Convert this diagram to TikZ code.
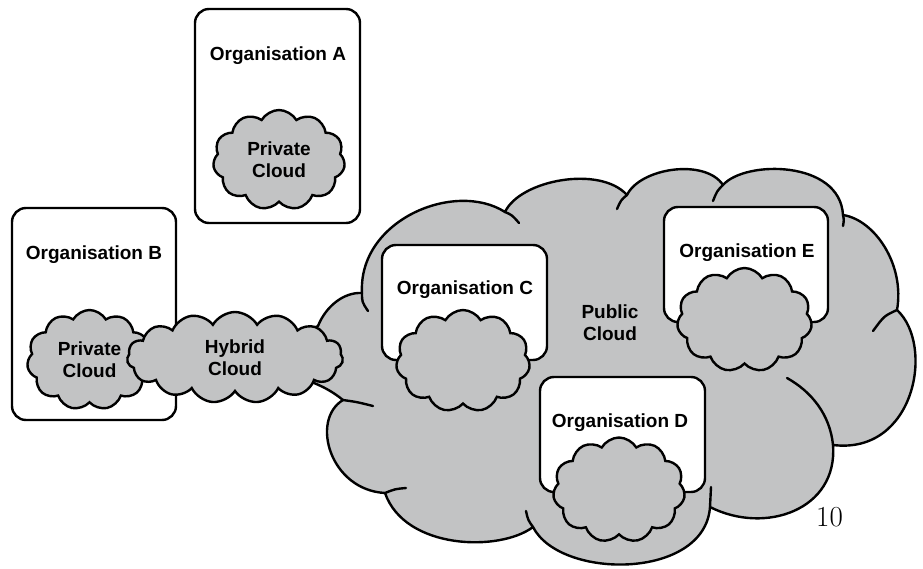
\documentclass[tikz,border=0pt]{standalone}
\usepackage{fontspec}
\newfontfamily\labelfont{Liberation Sans}
\usetikzlibrary{shapes.symbols}
\definecolor{cloudgray}{RGB}{194,195,196}
\tikzset{
  orgbox/.style={draw, fill=white, line width=2.4pt, rounded corners=14pt, inner sep=0pt},
  orglabel/.style={font=\labelfont\bfseries\fontsize{19}{22}\selectfont, inner sep=0pt, align=center},
  puff/.style={cloud, draw, fill=cloudgray, line width=2.4pt, cloud puffs=11, cloud puff arc=120,
    cloud ignores aspect, inner sep=0pt, align=center, font=\labelfont\bfseries\fontsize{19}{22}\selectfont},
  pubcloud/.style={draw, fill=cloudgray, line width=2.4pt, line join=round},
  seam/.style={line width=2.4pt, line cap=round}
}
\begin{document}
\begin{tikzpicture}[x=1pt, y=-1pt]
        \useasboundingbox (0,0) rectangle (923,569);
        % public cloud
        \draw[pubcloud] (318,326)
          .. controls (326,306) and (344,292) .. (362,293)
          .. controls (358,220) and (455,180) .. (505,212)
          .. controls (520,180) and (600,165) .. (627,195)
          .. controls (640,168) and (705,158) .. (723,185)
          .. controls (745,160) and (840,160) .. (843,215)
          .. controls (875,220) and (905,265) .. (897,310)
          .. controls (935,345) and (915,455) .. (833,445)
          .. controls (838,510) and (765,535) .. (710,507)
          .. controls (705,580) and (560,580) .. (533,527)
          .. controls (500,552) and (405,550) .. (385,493)
          .. controls (330,490) and (310,420) .. (343,400)
          .. controls (333,392) and (322,385) .. (300,378)
          -- (300,335) -- cycle;
        \draw[seam] (362,293) .. controls (362,302) .. (368,311);
        \draw[seam] (505,212) .. controls (512,215) .. (519,223);
        \draw[seam] (627,195) .. controls (621,200) .. (617,209);
        \draw[seam] (723,185) .. controls (717,191) .. (713,201);
        \draw[seam] (843,215) .. controls (844,220) .. (843,226);
        \draw[seam] (897,310) .. controls (884,316) .. (873,331);
        \draw[seam] (833,445) .. controls (830,415) and (812,392) .. (787,378);
        \draw[seam] (710,507) .. controls (710,497) .. (711,487);
        \draw[seam] (533,527) .. controls (528,520) .. (526,511);
        \draw[seam] (385,493) .. controls (395,489) .. (406,488);
        \draw[seam] (343,400) .. controls (357,402) .. (373,406);
        \node[orglabel] (pubtext) at (610,323) {Public\\Cloud};

        % organisations
        \node[orgbox, minimum width=165pt, minimum height=214pt] (orgA) at (277.5,116) {};
        \node[orgbox, minimum width=164pt, minimum height=212pt] (orgB) at (94,314) {};
        \node[orgbox, minimum width=165pt, minimum height=115pt] (orgC) at (464.5,302.5) {};
        \node[orgbox, minimum width=165pt, minimum height=115pt] (orgD) at (622.5,434.5) {};
        \node[orgbox, minimum width=164pt, minimum height=115pt] (orgE) at (746,264.5) {};
        \node[orglabel] (labA) at (278,56) {Organisation A};
        \node[orglabel] (labB) at (94,255) {Organisation B};
        \node[orglabel] (labC) at (465,290) {Organisation C};
        \node[orglabel] (labD) at (620,423) {Organisation D};
        \node[orglabel] (labE) at (747,253) {Organisation E};

        % private and hybrid clouds
        \node[puff, minimum width=132pt, minimum height=100pt] (privA) at (279,160) {Private\\Cloud};
        \node[puff, minimum width=125pt, minimum height=100pt] (privB) at (89.5,360) {Private\\Cloud};
        \node[puff, cloud puffs=15, minimum width=216pt, minimum height=91pt] (hybrid) at (235,357.5) {Hybrid\\Cloud};
        \node[puff, minimum width=134pt, minimum height=102pt] (cloudC) at (463,361) {};
        \node[puff, minimum width=132pt, minimum height=105pt] (cloudD) at (619,490) {};
        \node[puff, minimum width=135pt, minimum height=104pt] (cloudE) at (744.5,320) {};

        \node[font=\fontsize{29}{30}\selectfont, inner sep=0pt] (pageno) at (829.5,517) {10};
\end{tikzpicture}
\end{document}
